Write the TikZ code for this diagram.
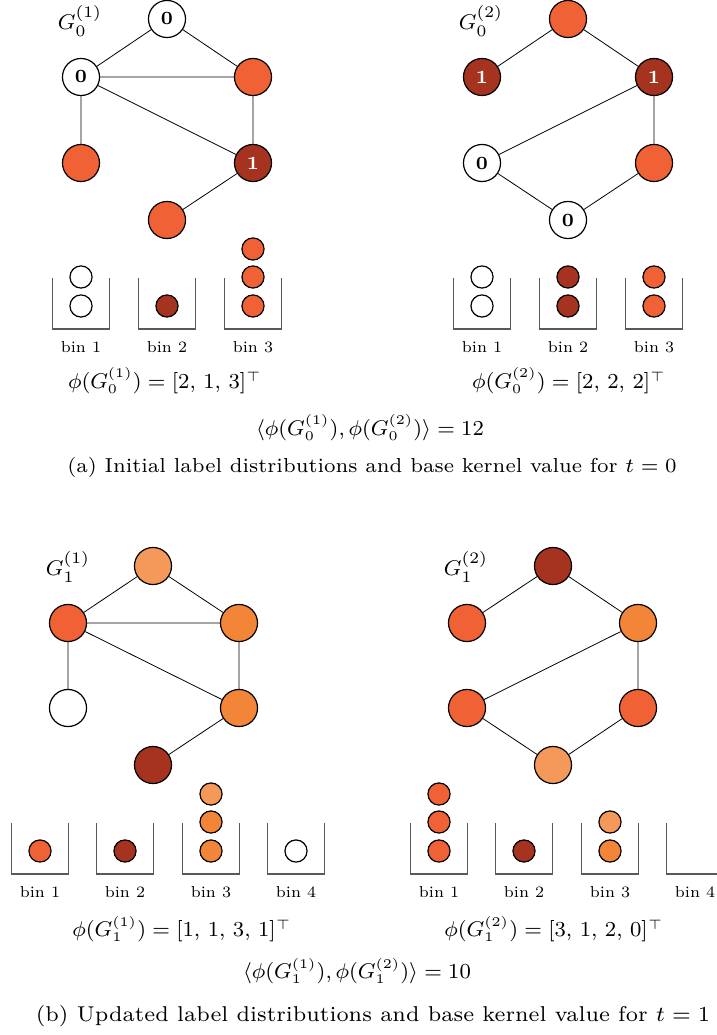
\documentclass[tikz,border=0pt]{standalone}
\usepackage{amsmath}
\usepackage{tikz}

\definecolor{cred}{RGB}{240,98,54}
\definecolor{cdark}{RGB}{166,50,32}
\definecolor{corange}{RGB}{242,133,55}
\definecolor{clight}{RGB}{245,153,90}

\begin{document}
\begin{tikzpicture}[x=0.375pt, y=-0.375pt,
    vtx/.style={circle, draw, line width=0.45pt, minimum size=13.9pt, inner sep=0pt, font=\scriptsize\bfseries},
    ball/.style={circle, draw, line width=0.45pt, minimum size=8.3pt, inner sep=0pt},
    edge/.style={line width=0.3pt},
    binline/.style={line width=0.4pt, black!65},
    binlab/.style={font=\scriptsize, scale=0.85, transform shape, inner sep=0.5pt},
    formula/.style={font=\fontsize{7.6}{9}\selectfont, inner sep=0.5pt},
    caption/.style={font=\scriptsize, transform shape, inner sep=0.5pt}]
    \useasboundingbox (0,0) rectangle (716,1035);

    % 图 G_0^(1)
    \node (g01) at (80,21) {\footnotesize $G_0^{(1)}$};
    \node (a1) [vtx, fill=white] at (167,19) {0};
    \node (a2) [vtx, fill=white] at (81,77) {0};
    \node (a3) [vtx, fill=cred] at (253,77) {};
    \node (a4) [vtx, fill=cred] at (81,163) {};
    \node (a5) [vtx, fill=cdark, text=white] at (253,163) {1};
    \node (a6) [vtx, fill=cred] at (167,220) {};
    \draw[edge] (a1) -- (a2) (a1) -- (a3) (a2) -- (a3) (a2) -- (a5)
        (a3) -- (a5) (a2) -- (a4) (a5) -- (a6);

    % 图 G_0^(2)
    \node (g02) at (481,21) {\footnotesize $G_0^{(2)}$};
    \node (b1) [vtx, fill=cred] at (568,19) {};
    \node (b2) [vtx, fill=cdark, text=white] at (482,77) {1};
    \node (b3) [vtx, fill=cdark, text=white] at (654,77) {1};
    \node (b4) [vtx, fill=white] at (482,163) {0};
    \node (b5) [vtx, fill=cred] at (654,163) {};
    \node (b6) [vtx, fill=white] at (568,220) {0};
    \draw[edge] (b1) -- (b2) (b1) -- (b3) (b3) -- (b4) (b3) -- (b5)
        (b4) -- (b6) (b6) -- (b5);

    % 直方图 t=0
    \draw[binline] (52.5,278) |- (109.5,329) -- (109.5,278);
    \draw[binline] (138.5,278) |- (195.5,329) -- (195.5,278);
    \draw[binline] (224.5,278) |- (281.5,329) -- (281.5,278);
    \draw[binline] (453.5,278) |- (510.5,329) -- (510.5,278);
    \draw[binline] (539.5,278) |- (596.5,329) -- (596.5,278);
    \draw[binline] (625.5,278) |- (682.5,329) -- (682.5,278);
    \node (p11) [ball, fill=white] at (81,306) {};
    \node (p12) [ball, fill=white] at (81,277) {};
    \node (p21) [ball, fill=cdark] at (167,306) {};
    \node (p31) [ball, fill=cred] at (253,306) {};
    \node (p32) [ball, fill=cred] at (253,277) {};
    \node (p33) [ball, fill=cred] at (253,249) {};
    \node (q11) [ball, fill=white] at (482,306) {};
    \node (q12) [ball, fill=white] at (482,277) {};
    \node (q21) [ball, fill=cdark] at (568,306) {};
    \node (q22) [ball, fill=cdark] at (568,277) {};
    \node (q31) [ball, fill=cred] at (654,306) {};
    \node (q32) [ball, fill=cred] at (654,277) {};
    \node (pl1) [binlab] at (81,347) {bin 1};
    \node (pl2) [binlab] at (167,347) {bin 2};
    \node (pl3) [binlab] at (253,347) {bin 3};
    \node (ql1) [binlab] at (482,347) {bin 1};
    \node (ql2) [binlab] at (568,347) {bin 2};
    \node (ql3) [binlab] at (654,347) {bin 3};

    % 公式 t=0
    \node (phi01) [formula] at (165,381) {$\phi(G_0^{(1)}) = [2,\,1,\,3]^{\top}$};
    \node (phi02) [formula] at (569,381) {$\phi(G_0^{(2)}) = [2,\,2,\,2]^{\top}$};
    \node (k0) [formula] at (370,428) {$\langle \phi(G_0^{(1)}), \phi(G_0^{(2)}) \rangle = 12$};
    \node (capa) [caption, scale=1.085] at (372,467) {(a) Initial label distributions and base kernel value for $t=0$};

    % 图 G_1^(1)
    \node (g11) at (68,567) {\footnotesize $G_1^{(1)}$};
    \node (c1) [vtx, fill=clight] at (153,566) {};
    \node (c2) [vtx, fill=cred] at (68,623) {};
    \node (c3) [vtx, fill=corange] at (239,623) {};
    \node (c4) [vtx, fill=white] at (68,708) {};
    \node (c5) [vtx, fill=corange] at (239,708) {};
    \node (c6) [vtx, fill=cdark] at (153,765) {};
    \draw[edge] (c1) -- (c2) (c1) -- (c3) (c2) -- (c3) (c2) -- (c5)
        (c3) -- (c5) (c2) -- (c4) (c5) -- (c6);

    % 图 G_1^(2)
    \node (g12) at (466,567) {\footnotesize $G_1^{(2)}$};
    \node (d1) [vtx, fill=cdark] at (553,566) {};
    \node (d2) [vtx, fill=cred] at (467,623) {};
    \node (d3) [vtx, fill=corange] at (638,623) {};
    \node (d4) [vtx, fill=cred] at (467,708) {};
    \node (d5) [vtx, fill=cred] at (638,708) {};
    \node (d6) [vtx, fill=clight] at (553,765) {};
    \draw[edge] (d1) -- (d2) (d1) -- (d3) (d3) -- (d4) (d3) -- (d5)
        (d4) -- (d6) (d6) -- (d5);

    % 直方图 t=1
    \draw[binline] (11.5,823) |- (68.5,874) -- (68.5,823);
    \draw[binline] (96.5,823) |- (153.5,874) -- (153.5,823);
    \draw[binline] (182.5,823) |- (239.5,874) -- (239.5,823);
    \draw[binline] (267.5,823) |- (324.5,874) -- (324.5,823);
    \draw[binline] (410.5,823) |- (467.5,874) -- (467.5,823);
    \draw[binline] (495.5,823) |- (552.5,874) -- (552.5,823);
    \draw[binline] (581.5,823) |- (638.5,874) -- (638.5,823);
    \draw[binline] (666.5,823) |- (723.5,874) -- (723.5,823);
    \node (r11) [ball, fill=cred] at (40,851) {};
    \node (r21) [ball, fill=cdark] at (125,851) {};
    \node (r31) [ball, fill=corange] at (211,851) {};
    \node (r32) [ball, fill=corange] at (211,822) {};
    \node (r33) [ball, fill=clight] at (211,794) {};
    \node (r41) [ball, fill=white] at (296,851) {};
    \node (s11) [ball, fill=cred] at (439,851) {};
    \node (s12) [ball, fill=cred] at (439,822) {};
    \node (s13) [ball, fill=cred] at (439,794) {};
    \node (s21) [ball, fill=cdark] at (524,851) {};
    \node (s31) [ball, fill=corange] at (610,851) {};
    \node (s32) [ball, fill=clight] at (610,822) {};
    \node (rl1) [binlab] at (40,892) {bin 1};
    \node (rl2) [binlab] at (125,892) {bin 2};
    \node (rl3) [binlab] at (211,892) {bin 3};
    \node (rl4) [binlab] at (296,892) {bin 4};
    \node (sl1) [binlab] at (439,892) {bin 1};
    \node (sl2) [binlab] at (524,892) {bin 2};
    \node (sl3) [binlab] at (610,892) {bin 3};
    \node (sl4) [binlab] at (695,892) {bin 4};

    % 公式 t=1
    \node (phi11) [formula] at (182,929) {$\phi(G_1^{(1)}) = [1,\,1,\,3,\,1]^{\top}$};
    \node (phi12) [formula] at (554,929) {$\phi(G_1^{(2)}) = [3,\,1,\,2,\,0]^{\top}$};
    \node (k1) [formula] at (357,971) {$\langle \phi(G_1^{(1)}), \phi(G_1^{(2)}) \rangle = 10$};
    \node (capb) [caption, scale=1.15] at (373,1016) {(b) Updated label distributions and base kernel value for $t=1$};
\end{tikzpicture}
\end{document}
